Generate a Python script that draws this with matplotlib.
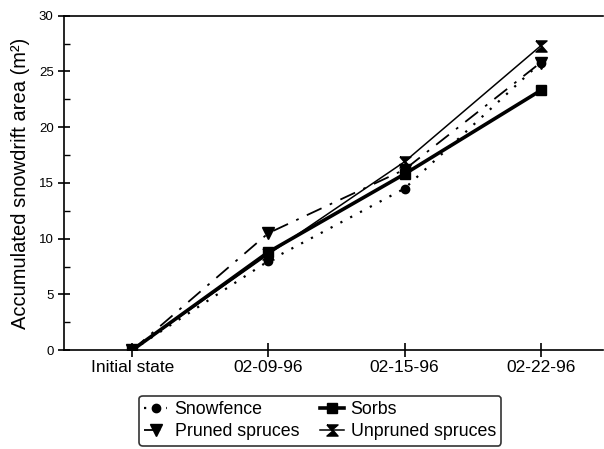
import numpy as np
import matplotlib.pyplot as plt
from matplotlib.ticker import MultipleLocator

plt.rcParams['font.family'] = ['Liberation Sans', 'DejaVu Sans']

dates = ['Initial state', '02-09-96', '02-15-96', '02-22-96']
snowfence = [0, 8.0, 14.5, 25.8]
sorbs = [0, 8.8, 15.8, 23.3]
pruned = [0, 10.5, 16.2, 25.8]
unpruned = [0, 8.6, 16.9, 27.3]

x = np.arange(len(dates))

fig = plt.figure(figsize=(6.04, 4.49), dpi=100)
ax = fig.add_axes([0.106, 0.22, 0.893, 0.745])

# bow-tie marker for unpruned spruces
bow = [(-1, 1), (1, 1), (0, 0.15), (1, -1), (-1, -1), (0, -0.15), (-1, 1)]

l1, = ax.plot(x, snowfence, color='black', linestyle=(0, (1, 4)), linewidth=1.6,
              marker='o', markersize=6, label='Snowfence')
l2, = ax.plot(x, sorbs, color='black', linestyle='-', linewidth=2.6,
              marker='s', markersize=7, label='Sorbs')
l3, = ax.plot(x, pruned, color='black', linestyle=(0, (9, 5, 1.5, 5)), linewidth=1.3,
              marker='v', markersize=8, label='Pruned spruces')
l4, = ax.plot(x, unpruned, color='black', linestyle='-', linewidth=1.1,
              marker=bow, markersize=8, label='Unpruned spruces')

ax.set_xlim(-0.5, 3.46)
ax.set_ylim(0, 30)
ax.set_xticks(x)
ax.set_xticklabels(dates, fontsize=12.5)
ax.yaxis.set_major_locator(MultipleLocator(5))
ax.yaxis.set_minor_locator(MultipleLocator(2.5))
ax.tick_params(axis='y', which='major', direction='inout', length=8, width=1.2, labelsize=9.5)
ax.tick_params(axis='y', which='minor', direction='in', length=4, width=1)
ax.tick_params(axis='x', which='major', direction='inout', length=10, width=1.2, pad=2)
ax.spines['right'].set_visible(False)
for s in ['left', 'top', 'bottom']:
    ax.spines[s].set_linewidth(1.2)
ax.set_ylabel('Accumulated snowdrift area (m²)', fontsize=14.5, labelpad=6)

# row order as in the original: Snowfence, Sorbs / Pruned, Unpruned
leg = fig.legend([l1, l3, l2, l4],
                 ['Snowfence', 'Pruned spruces', 'Sorbs', 'Unpruned spruces'],
                 loc='center', bbox_to_anchor=(0.53, 0.063), ncol=2, fontsize=12.8,
                 frameon=True, fancybox=True, edgecolor='black', handlelength=1.3,
                 handletextpad=0.4, columnspacing=1.2, labelspacing=0.3,
                 borderpad=0.3)
leg.get_frame().set_linewidth(1.2)

fig.savefig('out.png', dpi=100)
